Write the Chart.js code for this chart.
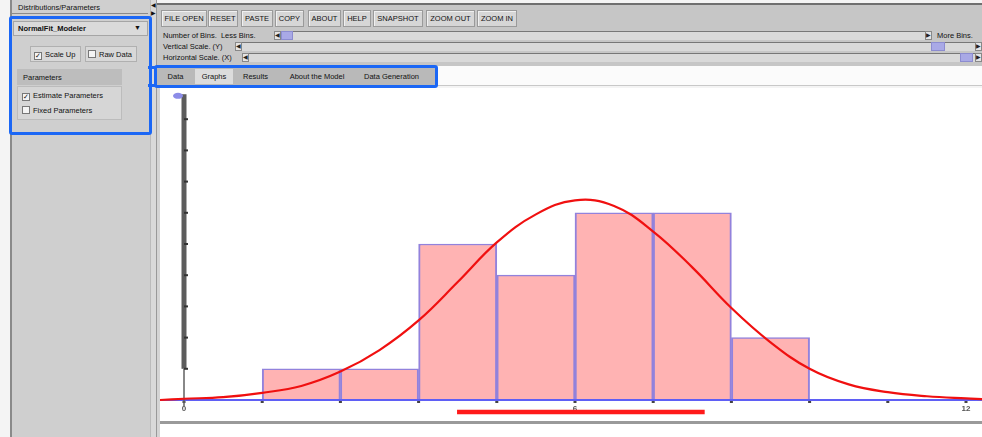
<!DOCTYPE html>
<html><head><meta charset="utf-8">
<script src="https://cdn.jsdelivr.net/npm/chart.js@4/dist/chart.umd.min.js"></script>
<style>
*{box-sizing:border-box}
body{margin:0;width:982px;height:437px;overflow:hidden;background:#f4f4f4;font-family:"Liberation Sans",Arial,sans-serif;font-size:8px;color:#222;position:relative}
.a{position:absolute}
.btn{position:absolute;top:10px;height:17px;background:#d6d6d6;border:1px solid #9a9a9a;box-shadow:inset 1px 1px 0 #f0f0f0;font-size:7.5px;line-height:15px;text-align:center;color:#111;white-space:nowrap}
.lbl{position:absolute;font-size:7.5px;white-space:nowrap;color:#111}
.track{position:absolute;height:9px;background:#d9d9d9;border-top:1px solid #777;border-left:1px solid #999}
.arr{position:absolute;width:7px;height:9px;background:#e4e4e4;border:1px solid #888;font-size:6px;line-height:7px;text-align:center;color:#222}
.thumb{position:absolute;height:9px;background:#a9a9e6;border:1px solid #8c8cd0}
.tab{position:absolute;top:69px;height:15px;background:#b9b9b9;font-size:7.5px;line-height:15px;text-align:center;color:#111;white-space:nowrap}
.cb{display:inline-block;width:8px;height:8px;border:1px solid #777;background:#f4f4f4;vertical-align:-1px;margin-right:3px;font-size:7px;line-height:6px;text-align:center}
</style></head>
<body>
<!-- left panel -->
<div class="a" style="left:10px;top:0;width:146px;height:437px;background:#cfcfcf;border-left:2px solid #8a8a8a"></div>
<div class="a" style="left:150px;top:0;width:7px;height:437px;background:#d9d9d9;border-left:1px solid #bbb;border-right:1px solid #999"></div>
<div class="lbl" style="left:151px;top:1px;font-size:6px">&#9664;</div>
<div class="lbl" style="left:151px;top:9px;font-size:6px">&#9654;</div>
<div class="a" style="left:12px;top:2px;width:136px;height:12px;background:#cfcfcf;border-bottom:1px solid #8a8a8a"></div>
<div class="lbl" style="left:18px;top:3px">Distributions/Parameters</div>
<div class="a" style="left:13px;top:21px;width:135px;height:15px;background:#dadada;border:1px solid #a5a5a5"></div>
<div class="lbl" style="left:18px;top:24px;font-weight:bold">NormalFit_Modeler</div>
<div class="lbl" style="left:134px;top:24px;font-size:7px">&#9660;</div>
<div class="a" style="left:30px;top:46px;width:51px;height:16px;background:#d8d8d8;border:1px solid #b0b0b0"></div>
<div class="lbl" style="left:34px;top:50px"><span class="cb">&#10003;</span>Scale Up</div>
<div class="a" style="left:85px;top:46px;width:52px;height:16px;background:#d8d8d8;border:1px solid #b0b0b0"></div>
<div class="lbl" style="left:88px;top:50px"><span class="cb"></span>Raw Data</div>
<div class="a" style="left:17px;top:69px;width:105px;height:16px;background:#bdbdbd"></div>
<div class="lbl" style="left:23px;top:73px">Parameters</div>
<div class="a" style="left:17px;top:86px;width:105px;height:34px;background:#d6d6d6;border:1px solid #bcbcbc"></div>
<div class="lbl" style="left:22px;top:91px"><span class="cb">&#10003;</span>Estimate Parameters</div>
<div class="lbl" style="left:22px;top:106px"><span class="cb"></span>Fixed Parameters</div>
<!-- blue highlights -->
<div class="a" style="left:9px;top:16px;width:143px;height:119px;border:3px solid #1b67f5;border-radius:3px"></div>
<div class="a" style="left:148px;top:66px;width:12px;height:21px;border-top:3px solid #1b67f5;border-bottom:3px solid #1b67f5"></div>
<!-- toolbar -->
<div class="a" style="left:157px;top:3px;width:825px;height:63px;background:#c6c6c6;border-top:2px solid #6f6f6f"></div>
<div class="btn" style="left:161px;width:46px">FILE OPEN</div>
<div class="btn" style="left:208px;width:30px">RESET</div>
<div class="btn" style="left:241px;width:32px">PASTE</div>
<div class="btn" style="left:275px;width:29px">COPY</div>
<div class="btn" style="left:308px;width:33px">ABOUT</div>
<div class="btn" style="left:343px;width:28px">HELP</div>
<div class="btn" style="left:373px;width:50px">SNAPSHOT</div>
<div class="btn" style="left:426px;width:49px">ZOOM OUT</div>
<div class="btn" style="left:477px;width:40px">ZOOM IN</div>
<!-- sliders -->
<div class="lbl" style="left:163px;top:31px">Number of Bins.&nbsp; Less Bins.</div>
<div class="track" style="left:274px;top:31px;width:658px"></div>
<div class="arr" style="left:274px;top:31px">&#9664;</div>
<div class="thumb" style="left:281px;top:31px;width:12px"></div>
<div class="arr" style="left:925px;top:31px">&#9654;</div>
<div class="lbl" style="left:937px;top:31px">More Bins.</div>
<div class="lbl" style="left:163px;top:42px">Vertical Scale. (Y)</div>
<div class="track" style="left:235px;top:42px;width:747px"></div>
<div class="arr" style="left:235px;top:42px">&#9664;</div>
<div class="thumb" style="left:931px;top:42px;width:14px"></div>
<div class="arr" style="left:975px;top:42px">&#9654;</div>
<div class="lbl" style="left:163px;top:53px">Horizontal Scale. (X)</div>
<div class="track" style="left:242px;top:53px;width:740px"></div>
<div class="arr" style="left:242px;top:53px">&#9664;</div>
<div class="thumb" style="left:960px;top:53px;width:13px"></div>
<div class="arr" style="left:975px;top:53px">&#9654;</div>
<!-- tabs -->
<div class="a" style="left:436px;top:66px;width:546px;height:20px;background:#fbfbfb;border-bottom:1px solid #c8c8c8"></div>
<div class="a" style="left:156px;top:67px;width:280px;height:19px;background:#b9b9b9"></div>
<div class="tab" style="left:161px;width:29px">Data</div>
<div class="tab" style="left:195px;width:38px;background:#dcdcdc">Graphs</div>
<div class="tab" style="left:236px;width:39px">Results</div>
<div class="tab" style="left:281px;width:72px">About the Model</div>
<div class="tab" style="left:356px;width:71px">Data Generation</div>
<div class="a" style="left:154px;top:65px;width:284px;height:23px;border:3px solid #1b67f5;border-radius:3px"></div>
<!-- plot area -->
<div class="a" style="left:157px;top:88px;width:825px;height:349px;background:#fff;border-left:3px solid #d4d4d4"></div>
<div class="a" style="left:160px;top:421px;width:822px;height:3px;background:#9a9a9a"></div>
<canvas id="c" class="a" style="left:160px;top:85px" width="822" height="335"></canvas>
<script>
// histogram bins (x values) and counts
const binEdges = [1.2, 2.4, 3.6, 4.8, 6.0, 7.2, 8.4, 9.6];
const binCounts = [1, 1, 5, 4, 6, 6, 2];
// fitted normal curve
const curveX = [-0.37, 0, 0.6, 1.2, 1.8, 2.4, 3.0, 3.6, 4.2, 4.8, 5.4, 6.0, 6.6, 7.2, 7.8, 8.4, 9.0, 9.6, 10.2, 10.8, 11.4, 12.0, 12.25];
const curveY = [0.0, 0.04, 0.09, 0.23, 0.45, 0.91, 1.6, 2.55, 3.78, 5.05, 5.95, 6.4, 6.22, 5.4, 4.25, 2.95, 1.85, 1.0, 0.5, 0.25, 0.12, 0.05, 0.03];
// x tick labels and ticks
const xTickLabels = ['0', '6', '12'];
const xTickLabelValues = [0, 6, 12];
const xTickStep = 1.2;
const yTickValues = [1, 2, 3, 4, 5, 6, 7, 8, 9];
// mean +/- SD bar
const meanSdRange = [4.19, 7.99];

const barData = binCounts.map((c, i) => ({x: (binEdges[i] + binEdges[i + 1]) / 2, y: c}));
const lineData = curveX.map((x, i) => ({x: x, y: curveY[i]}));

const axesPlugin = {
  id: 'socrAxes',
  afterDatasetDraw(chart, args) {
    if (args.index !== 0) return;
    const ctx = chart.ctx, xs = chart.scales.x, ys = chart.scales.y;
    const y0 = ys.getPixelForValue(0), x0 = xs.getPixelForValue(0);
    ctx.save();
    // baseline
    ctx.strokeStyle = '#5f5ff5'; ctx.lineWidth = 2;
    ctx.beginPath(); ctx.moveTo(xs.left, y0); ctx.lineTo(xs.right, y0); ctx.stroke();
    // x ticks
    ctx.fillStyle = '#444';
    for (let v = 0; v <= 12.001; v += xTickStep) {
      const px = xs.getPixelForValue(v);
      ctx.fillRect(px - 1.5, y0 + 1, 3, 2);
    }
    // y axis
    ctx.strokeStyle = '#606060'; ctx.lineWidth = 1.5;
    ctx.beginPath(); ctx.moveTo(x0, ys.getPixelForValue(-0.2)); ctx.lineTo(x0, ys.getPixelForValue(1)); ctx.stroke();
    ctx.fillStyle = '#5c5c5c';
    const yTop = ys.getPixelForValue(9.8), yB = ys.getPixelForValue(1);
    ctx.fillRect(x0 - 2.5, yTop, 5, yB - yTop);
    ctx.fillStyle = '#333';
    yTickValues.forEach(v => { const py = ys.getPixelForValue(v); ctx.fillRect(x0, py - 1, 4, 2); });
    // small marker at top of y axis
    ctx.fillStyle = '#8c8ce8';
    ctx.beginPath(); ctx.ellipse(x0 - 6, ys.getPixelForValue(9.75), 5, 3, 0, 0, Math.PI * 2); ctx.fill();
    // x labels
    ctx.fillStyle = '#555'; ctx.font = 'bold 8px "Liberation Sans", Arial'; ctx.textAlign = 'center'; ctx.textBaseline = 'top';
    xTickLabels.forEach((t, i) => ctx.fillText(t, xs.getPixelForValue(xTickLabelValues[i]), y0 + 5));
    ctx.restore();
  },
  afterDraw(chart) {
    const ctx = chart.ctx, xs = chart.scales.x, ys = chart.scales.y;
    const py = ys.getPixelForValue(-0.385);
    ctx.save();
    ctx.strokeStyle = '#ff1a1a'; ctx.lineWidth = 4.5; ctx.lineCap = 'butt';
    ctx.beginPath(); ctx.moveTo(xs.getPixelForValue(meanSdRange[0]), py); ctx.lineTo(xs.getPixelForValue(meanSdRange[1]), py); ctx.stroke();
    ctx.restore();
  }
};

new Chart(document.getElementById('c'), {
  data: {
    datasets: [
      {type: 'bar', data: barData, order: 2, backgroundColor: '#ffb3b3', borderColor: '#9282dc', borderWidth: {top: 1.5, left: 2, right: 2, bottom: 0}, borderSkipped: false, barPercentage: 1, categoryPercentage: 1, grouped: false},
      {type: 'line', data: lineData, order: 1, borderColor: '#f01010', borderWidth: 2.2, pointRadius: 0, tension: 0.4, fill: false}
    ]
  },
  options: {
    responsive: false, animation: false, events: [],
    layout: {padding: 0},
    plugins: {legend: {display: false}, tooltip: {enabled: false}},
    scales: {
      x: {type: 'linear', display: false, min: -0.3683, max: 12.2455, offset: false},
      y: {type: 'linear', display: false, min: -0.641, max: 10.096}
    }
  },
  plugins: [axesPlugin]
});
</script>
</body></html>
